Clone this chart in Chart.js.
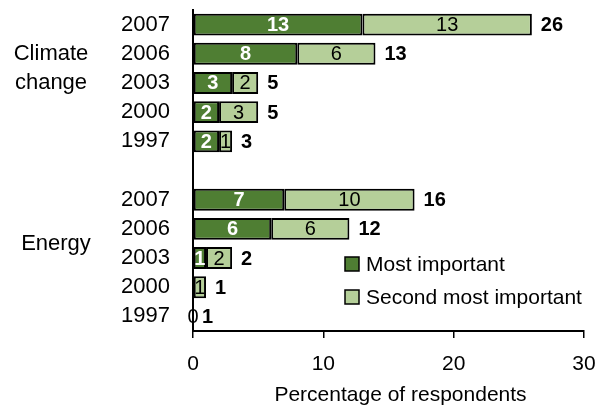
<!DOCTYPE html>
<html>
<head>
<meta charset="utf-8">
<script src="https://cdn.jsdelivr.net/npm/chart.js@4/dist/chart.umd.min.js"></script>
<style>
  html, body { margin: 0; padding: 0; background: #fff; }
  #wrap { width: 598px; height: 405px; position: relative; }
</style>
</head>
<body>
<div id="wrap"><canvas id="chart" width="598" height="405"></canvas></div>
<script>
// years per topic, blank slot between the two groups
const groups = ['Climate change', 'Energy'];
const categories = ['2007', '2006', '2003', '2000', '1997', '', '2007', '2006', '2003', '2000', '1997'];
const mostImportant = [13, 8, 3, 2, 2, null, 7, 6, 1, null, 0];
const secondImportant = [13, 6, 2, 3, 1, null, 10, 6, 2, 1, null];
const totals = [26, 13, 5, 5, 3, null, 16, 12, 2, 1, 1];
const xTicks = [0, 10, 20, 30];
const xTitle = 'Percentage of respondents';

const darkGreen = '#4f7e33';
const lightGreen = '#b5cf99';
const FONT = '"Liberation Sans", Arial, sans-serif';

// labels inside the segments and the totals at the end of each bar
const barLabels = {
    id: 'barLabels',
    afterDatasetsDraw(chart) {
        let ctx = chart.ctx;
        let xs = chart.scales.x;
        ctx.save();
        ctx.textAlign = 'center';
        ctx.textBaseline = 'middle';
        chart.data.datasets.forEach((ds, di) => {
            let meta = chart.getDatasetMeta(di);
            meta.data.forEach((bar, i) => {
                let v = ds.data[i];
                if (v === null || v === undefined) return;
                let cx = (bar.x + bar.base) / 2;
                if (di === 0 && v > 0) {
                    ctx.fillStyle = '#fff';
                    ctx.font = 'bold 20px ' + FONT;
                } else {
                    ctx.fillStyle = '#000';
                    ctx.font = '20px ' + FONT;
                }
                ctx.fillText(String(v), cx, bar.y + 1);
            });
        });
        ctx.textAlign = 'left';
        ctx.font = 'bold 20px ' + FONT;
        ctx.fillStyle = '#000';
        let meta0 = chart.getDatasetMeta(0);
        totals.forEach((t, i) => {
            if (t === null) return;
            let end = (mostImportant[i] || 0) + (secondImportant[i] || 0);
            ctx.fillText(String(t), xs.getPixelForValue(end) + 9, meta0.data[i].y + 1);
        });
        ctx.restore();
    }
};

// topic names left of the year labels, axis title and the legend inside the plot
const extras = {
    id: 'extras',
    afterDraw(chart) {
        let ctx = chart.ctx;
        let ys = chart.scales.y;
        let area = chart.chartArea;
        ctx.save();
        ctx.fillStyle = '#000';
        ctx.font = '22px ' + FONT;
        ctx.textAlign = 'center';
        ctx.textBaseline = 'middle';
        let words = groups[0].split(' ');
        ctx.fillText(words[0], 51, ys.getPixelForValue(1));
        ctx.fillText(words[1], 51, ys.getPixelForValue(2));
        ctx.fillText(groups[1], 56, (ys.getPixelForValue(7) + ys.getPixelForValue(8)) / 2);

        ctx.font = '21px ' + FONT;
        ctx.fillText(xTitle, (area.left + area.right) / 2 + 12, area.bottom + 64);

        ctx.textAlign = 'left';
        chart.data.datasets.forEach((ds, di) => {
            let y = area.top + 254 + di * 33;
            ctx.fillStyle = ds.backgroundColor;
            ctx.fillRect(area.left + 152, y - 7, 14, 14);
            ctx.strokeStyle = '#000';
            ctx.lineWidth = 1.5;
            ctx.strokeRect(area.left + 152, y - 7, 14, 14);
            ctx.fillStyle = '#000';
            ctx.fillText(ds.label, area.left + 173, y + 1);
        });
        ctx.restore();
    }
};

let ctx = document.getElementById('chart').getContext('2d');
let myChart = new Chart(ctx, {
    type: 'bar',
    data: {
        labels: categories,
        datasets: [{
            label: 'Most important',
            data: mostImportant,
            backgroundColor: darkGreen,
            borderColor: '#000',
            borderWidth: 2,
            borderSkipped: false,
        }, {
            label: 'Second most important',
            data: secondImportant,
            backgroundColor: lightGreen,
            borderColor: '#000',
            borderWidth: 2,
            borderSkipped: false,
        }]
    },
    options: {
        indexAxis: 'y',
        responsive: false,
        animation: false,
        layout: { padding: { top: 10, right: 14, left: 0, bottom: 0 } },
        datasets: { bar: { categoryPercentage: 1, barPercentage: 0.75 } },
        plugins: {
            legend: { display: false },
            tooltip: { enabled: false },
        },
        scales: {
            x: {
                stacked: true,
                min: 0,
                max: 30,
                afterBuildTicks(scale) {
                    scale.ticks = xTicks.map(v => ({ value: v }));
                },
                afterFit(scale) {
                    scale.height = 74;
                    scale.paddingLeft = 0;
                    scale.paddingRight = 0;
                },
                grid: {
                    drawOnChartArea: false,
                    drawTicks: true,
                    tickLength: 7,
                    color: '#000',
                    lineWidth: 1.5,
                },
                border: { display: true, color: '#000', width: 2 },
                ticks: {
                    color: '#000',
                    font: { family: FONT, size: 21 },
                    padding: 14,
                    maxRotation: 0,
                },
            },
            y: {
                stacked: true,
                afterFit(scale) {
                    scale.width = 193;
                    scale.paddingTop = 0;
                    scale.paddingBottom = 0;
                },
                grid: { display: false, drawTicks: false },
                border: { display: true, color: '#000', width: 2 },
                ticks: {
                    color: '#000',
                    font: { family: FONT, size: 22 },
                    padding: 23,
                    autoSkip: false,
                },
            }
        }
    },
    plugins: [barLabels, extras]
});
</script>
</body>
</html>
